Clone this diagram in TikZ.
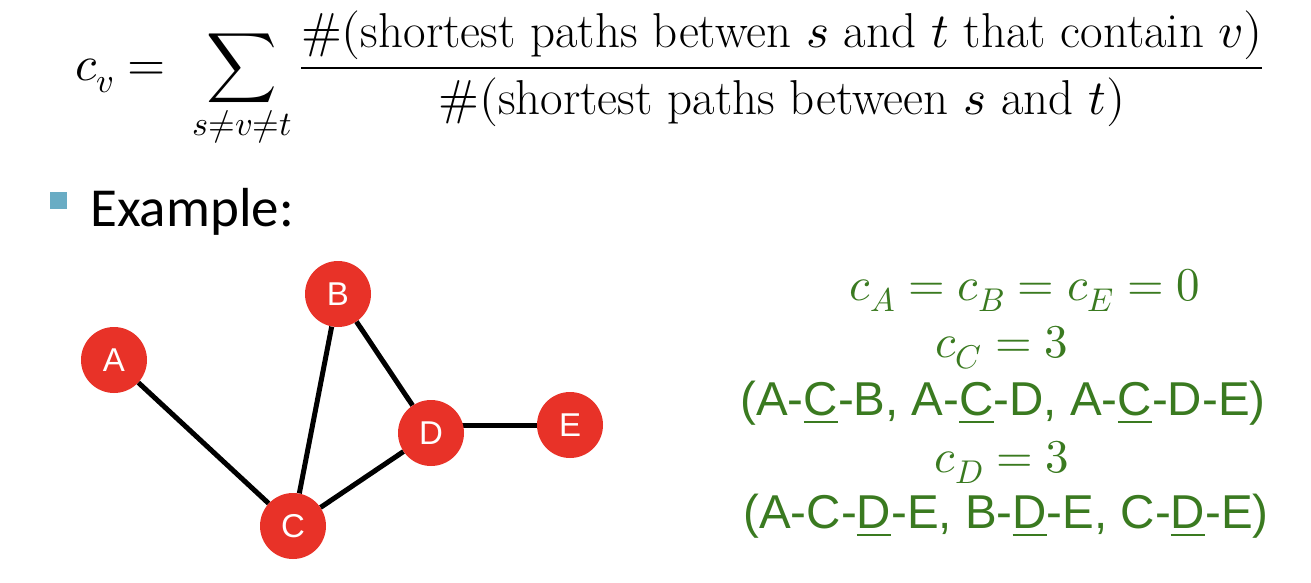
\documentclass[tikz,border=0pt]{standalone}
\usepackage{fontspec}
\usepackage{amsmath}
\usepackage{unicode-math}
\setmathfont{Latin Modern Math}
\usetikzlibrary{backgrounds}
\newfontfamily\arialf{Liberation Sans}
\newfontfamily\calibf{Carlito}
\definecolor{nodered}{RGB}{232,50,40}
\definecolor{txtgreen}{RGB}{58,122,32}
\definecolor{bulletblue}{RGB}{105,172,196}
\begin{document}
\begin{tikzpicture}[x=1pt,y=-1pt,
  vtx/.style={circle,fill=nodered,minimum size=66pt,inner sep=0pt,text=white,font=\arialf\fontsize{33}{33}\selectfont},
  edge/.style={line width=5pt,black},
  greenmath/.style={text=txtgreen,anchor=base,inner sep=0pt,font=\fontsize{47}{50}\selectfont},
  greentext/.style={text=txtgreen,anchor=base,inner sep=0pt,font=\arialf\fontsize{47.5}{50}\selectfont}]
\useasboundingbox (0,0) rectangle (1311,582);
% formula
\node[anchor=west,inner sep=0pt,font=\fontsize{49}{56}\selectfont] (formula) at (75,80)
  {$\displaystyle c_v = \;\sum_{s\neq v\neq t}\frac{\#(\text{shortest paths betwen } s \text{ and } t \text{ that contain } v)}{\#(\text{shortest paths between } s \text{ and } t)}$};
% Example
\node[anchor=base west,inner sep=0pt,font=\calibf\fontsize{55}{60}\selectfont] (example) at (90,226) {Example:};
\fill[bulletblue] (50,192) rectangle (67,209);
% graph
\node[vtx] (A) at (114,360) {A};
\node[vtx] (B) at (338,294) {B};
\node[vtx] (C) at (293,526) {C};
\node[vtx] (D) at (431,433) {D};
\node[vtx] (E) at (570,425) {E};
\begin{scope}[on background layer]
\fill[white] (0,0) rectangle (1311,582);
\draw[edge] (A) -- (C);
\draw[edge] (B) -- (C);
\draw[edge] (B) -- (D);
\draw[edge] (C) -- (D);
\draw[edge] (E.center) -- (E.center -| D.center);
\end{scope}
% right text
\node[greenmath] (l1) at (1025,300) {$c_A = c_B = c_E = 0$};
\node[greenmath] (l2) at (1002,357) {$c_C = 3$};
\node[greentext] (l3) at (1003,415) {(A-\underline{C}-B, A-\underline{C}-D, A-\underline{C}-D-E)};
\node[greenmath] (l4) at (1002,472) {$c_D = 3$};
\node[greentext] (l5) at (1006,528) {(A-C-\underline{D}-E, B-\underline{D}-E, C-\underline{D}-E)};
\end{tikzpicture}
\end{document}
